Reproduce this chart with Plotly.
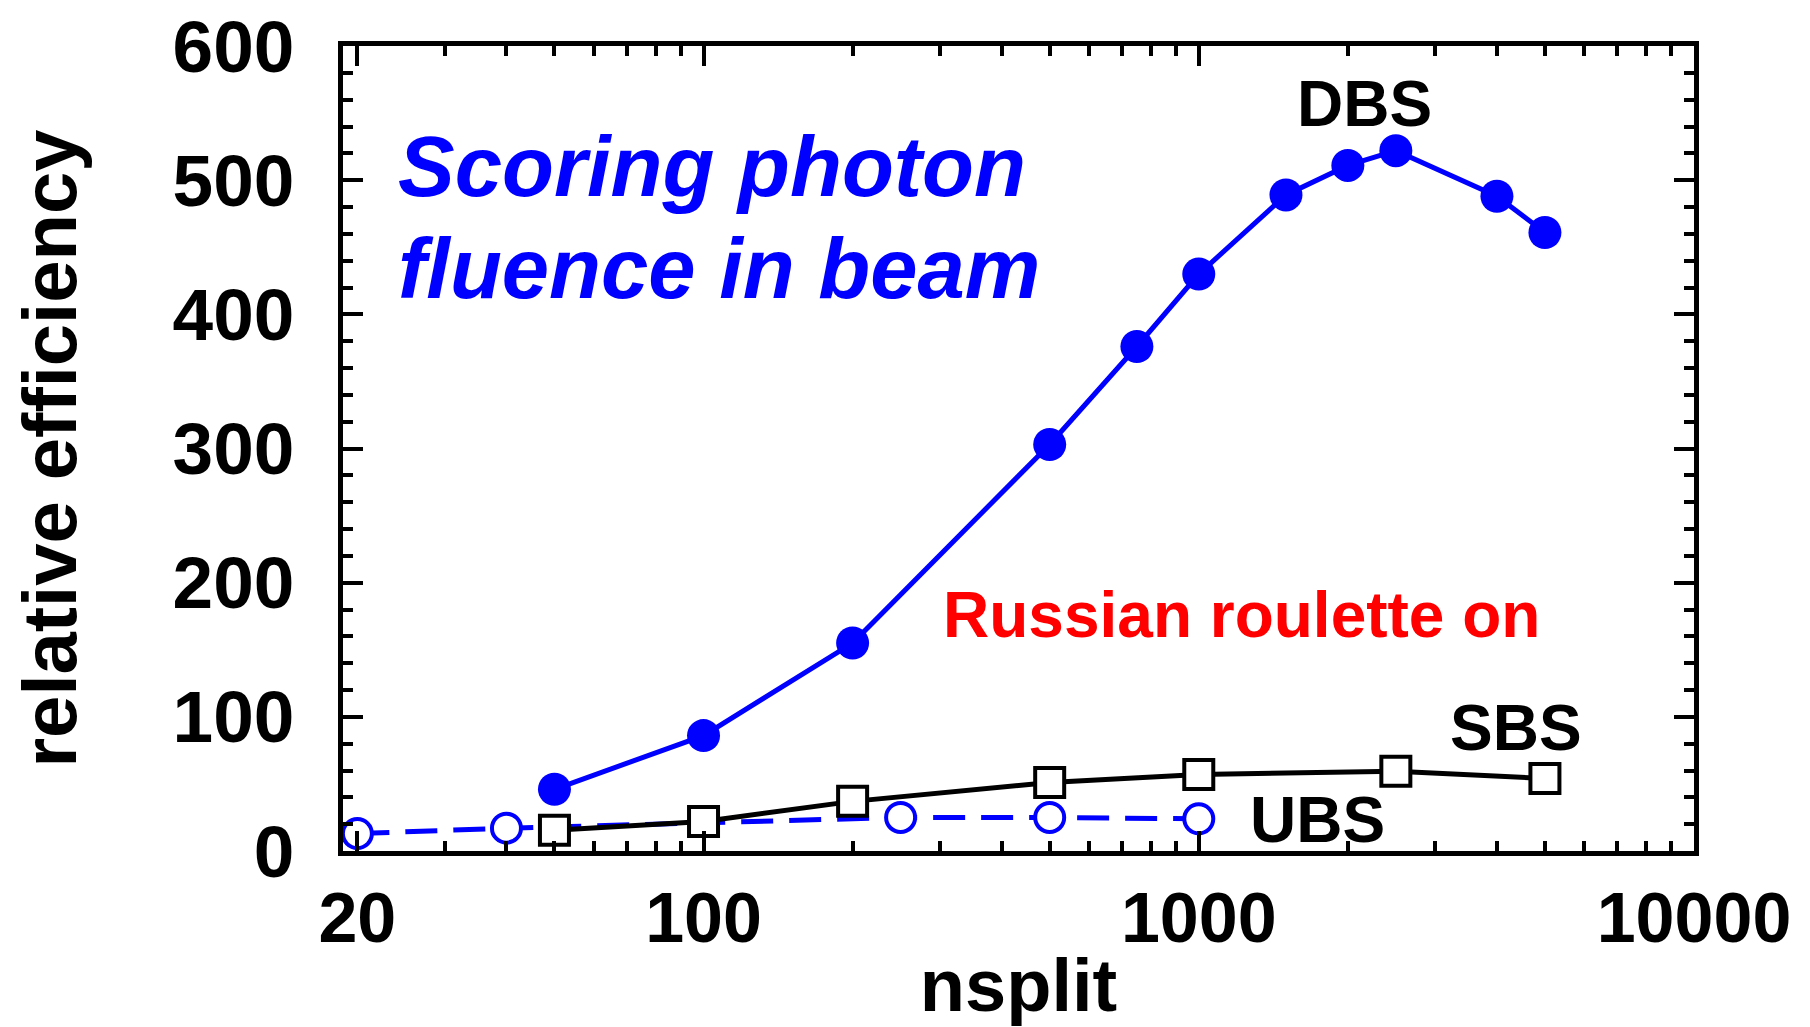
import numpy as np
import plotly.graph_objects as go

# nsplit values and relative efficiencies for each splitting technique
dbs_nsplit = [50, 100, 200, 500, 750, 1000, 1500, 2000, 2500, 4000, 5000]
dbs_eff = [46, 86, 155, 303, 376, 430, 489, 511, 522, 488, 461]

sbs_nsplit = [50, 100, 200, 500, 1000, 2500, 5000]
sbs_eff = [15.5, 22, 37, 51, 57, 59.5, 54]

ubs_nsplit = [20, 40, 250, 500, 1000]
ubs_eff = [13, 17, 25, 25, 24]

x_tickvals = [20, 100, 1000, 10000]
x_ticktext = ["20", "100", "1000", "10000"]
x_minor = [d * m for d in (10, 100, 1000) for m in range(2, 10)]
y_tickvals = [0, 100, 200, 300, 400, 500, 600]

BLUE = "#0000ff"
FONT = "Liberation Sans, Arial, sans-serif"

fig = go.Figure()

fig.add_trace(go.Scatter(
    x=ubs_nsplit, y=ubs_eff, mode="lines+markers", name="UBS",
    line=dict(color=BLUE, width=5, dash="32px,16px"),
    marker=dict(symbol="circle", size=29, color="white", line=dict(width=4, color=BLUE)),
))
fig.add_trace(go.Scatter(
    x=sbs_nsplit, y=sbs_eff, mode="lines+markers", name="SBS",
    line=dict(color="black", width=5),
    marker=dict(symbol="square", size=29, color="white", line=dict(width=4, color="black")),
))
fig.add_trace(go.Scatter(
    x=dbs_nsplit, y=dbs_eff, mode="lines+markers", name="DBS",
    line=dict(color=BLUE, width=5),
    marker=dict(symbol="circle", size=33, color=BLUE),
))

def label(text, x, y, size, color="black", italic=False, xanchor="center"):
    fig.add_annotation(
        x=np.log10(x), y=y, xref="x", yref="y", text=text, showarrow=False,
        xanchor=xanchor, yanchor="middle",
        font=dict(family=FONT, size=size, color=color, weight="bold",
                  style="italic" if italic else "normal"),
    )

label("DBS", 2160, 557, 64)
label("SBS", 4365, 92, 64)
label("UBS", 1740, 23, 64)
label("Russian roulette on", 1220, 176, 64, color="#ff0000")
label("Scoring photon", 23.9, 510, 85, color=BLUE, italic=True, xanchor="left")
label("fluence in beam", 23.9, 434, 85, color=BLUE, italic=True, xanchor="left")

fig.update_xaxes(
    type="log", range=[1.272, 4.0],
    tickvals=x_tickvals, ticktext=x_ticktext,
    ticks="inside", ticklen=20, tickwidth=4, tickcolor="black",
    minor=dict(tickvals=x_minor, ticks="inside", ticklen=10, tickwidth=4, tickcolor="black"),
    showline=True, linewidth=5, linecolor="black", mirror="allticks",
    showgrid=False, zeroline=False,
    tickfont=dict(family=FONT, size=70, color="black", weight="bold"),
    ticklabelstandoff=2,
    title=dict(text="nsplit", standoff=40,
               font=dict(family=FONT, size=74, color="black", weight="bold")),
)
fig.update_yaxes(
    range=[0, 600], tickvals=y_tickvals,
    ticks="inside", ticklen=20, tickwidth=4, tickcolor="black",
    minor=dict(dtick=20, ticks="inside", ticklen=10, tickwidth=4, tickcolor="black"),
    showline=True, linewidth=5, linecolor="black", mirror="allticks",
    showgrid=False, zeroline=False,
    tickfont=dict(family=FONT, size=73, color="black", weight="bold"),
    ticklabelstandoff=29,
    title=dict(text="relative efficiency", standoff=72,
               font=dict(family=FONT, size=76, color="black", weight="bold")),
)

fig.update_layout(
    width=1810, height=1027,
    margin=dict(l=343, r=116, t=46, b=176, autoexpand=False),
    paper_bgcolor="white", plot_bgcolor="white",
    showlegend=False,
)

fig.write_html("out.html")
